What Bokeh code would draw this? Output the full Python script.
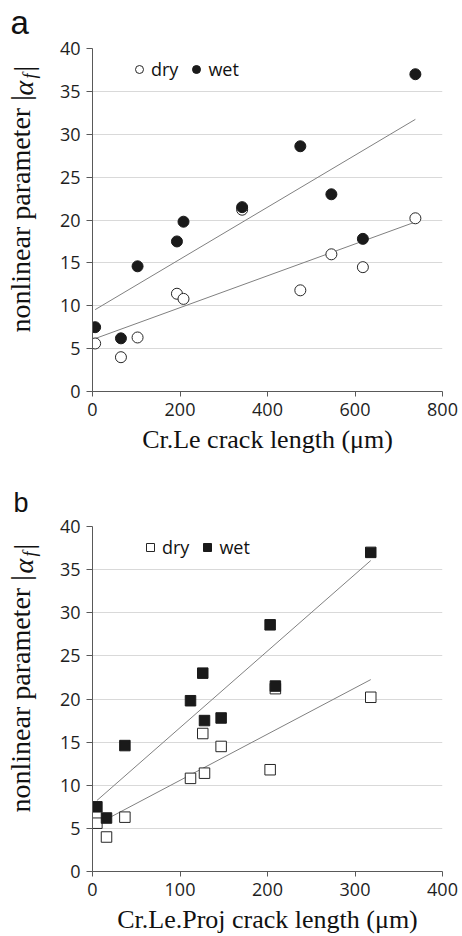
import math
import numpy as np
from bokeh.plotting import figure
from bokeh.models import Label, Legend, LegendItem, FixedTicker, Range1d
from bokeh.layouts import column
from bokeh.embed import file_html
from bokeh.resources import INLINE

# ---------------- data ----------------
crack_len_crle = [6, 65, 103, 193, 208, 342, 475, 546, 618, 738]      # Cr.Le (um)
crack_len_proj = [5, 16, 37, 128, 112, 209, 203, 126, 147, 318]       # Cr.Le.Proj (um)
alpha_dry = [5.6, 4.0, 6.3, 11.4, 10.8, 21.2, 11.8, 16.0, 14.5, 20.2]
alpha_wet = [7.5, 6.2, 14.6, 17.5, 19.8, 21.5, 28.6, 23.0, 17.8, 37.0]
y_ticks = [0, 5, 10, 15, 20, 25, 30, 35, 40]
x_ticks_a = [0, 200, 400, 600, 800]
x_ticks_b = [0, 100, 200, 300, 400]
series_labels = ["dry", "wet"]
x_title_a = "Cr.Le crack length (\u03bcm)"
x_title_b = "Cr.Le.Proj crack length (\u03bcm)"
y_title_main = "nonlinear parameter |"

TICK_FONT = "Open Sans"
SERIF = "Liberation Serif"
ROT = math.pi / 2


def make_panel(xs, xticks, letter, marker, msize, height, frame_h, bottom, leg_x,
               xtitle, letter_size, letter_dy):
    p = figure(width=460, height=height,
               x_range=Range1d(xticks[0], xticks[-1]), y_range=Range1d(0, 40),
               output_backend="svg", toolbar_location=None,
               min_border_left=92, min_border_right=18, min_border_top=48,
               min_border_bottom=bottom)
    p.outline_line_color = None
    p.background_fill_color = "white"
    p.border_fill_color = "white"
    p.xgrid.visible = False
    p.ygrid.grid_line_color = "#d9d9d9"
    p.ygrid.grid_line_width = 1

    p.yaxis.ticker = FixedTicker(ticks=y_ticks)
    p.xaxis.ticker = FixedTicker(ticks=xticks)
    for ax in (p.xaxis, p.yaxis):
        ax.axis_line_color = "#595959"
        ax.major_tick_line_color = "#595959"
        ax.minor_tick_line_color = None
        ax.major_tick_in = 0
        ax.major_label_text_font = TICK_FONT
        ax.major_label_text_font_size = "18px"
        ax.major_label_text_color = "#1e1e1e"
    p.yaxis.major_tick_out = 6
    p.yaxis.major_label_standoff = 6
    p.xaxis.major_tick_out = 5
    p.xaxis.major_label_standoff = 6
    p.xaxis.axis_label = xtitle
    p.xaxis.axis_label_text_font = SERIF
    p.xaxis.axis_label_text_font_size = "26px"
    p.xaxis.axis_label_text_font_style = "normal"
    p.xaxis.axis_label_text_color = "#111111"
    p.xaxis.axis_label_standoff = 6

    # trend lines (least squares through each series)
    x0, x1 = min(xs), max(xs)
    for ys in (alpha_dry, alpha_wet):
        m, c = np.polyfit(xs, ys, 1)
        p.line([x0, x1], [m * x0 + c, m * x1 + c], line_color="#808080", line_width=1)

    r_dry = p.scatter(xs, alpha_dry, marker=marker, size=msize, fill_color="white",
                      line_color="#262626", line_width=1)
    r_wet = p.scatter(xs, alpha_wet, marker=marker, size=msize, fill_color="#1a1a1a",
                      line_color="#1a1a1a", line_width=1)

    legend = Legend(items=[LegendItem(label=series_labels[0], renderers=[r_dry]),
                           LegendItem(label=series_labels[1], renderers=[r_wet])],
                    location=(leg_x, frame_h - 33), orientation="horizontal",
                    glyph_width=20, glyph_height=20, label_standoff=2, spacing=8,
                    padding=0, margin=0, border_line_color=None,
                    background_fill_alpha=0, label_text_font=TICK_FONT,
                    label_text_font_size="18px", label_text_color="#111111",
                    label_height=20)
    p.add_layout(legend)

    common = dict(x_units="screen", y_units="screen", angle=ROT,
                  text_align="left", text_baseline="middle", text_color="#111111",
                  text_font=SERIF)
    # left side panels (stacked outward from the y axis): main title, then letter
    p.add_layout(Label(x=-5, y=59, text=y_title_main, text_font_size="28px", **common), "left")
    p.add_layout(Label(x=3, y=frame_h + letter_dy, x_units="screen", y_units="screen",
                       text=letter, text_font="Liberation Sans",
                       text_font_size=f"{letter_size}px", text_baseline="alphabetic",
                       text_align="left", text_color="#111111"), "left")
    # above side panels: the |alpha_f| ending of the y title
    p.add_layout(Label(x=-69, y=-47, text="\u03b1", text_font_size="28px",
                       text_font_style="italic", **common), "above")
    p.add_layout(Label(x=-63, y=-45, text="f", text_font_size="18px",
                       text_font_style="italic", **common), "above")
    p.add_layout(Label(x=-69, y=-43, text="|", text_font_size="28px", **common), "above")
    return p


pa = make_panel(crack_len_crle, x_ticks_a, "a", "circle", 11, 478, 343, 87, 37,
                x_title_a, 33, 26)
pb = make_panel(crack_len_proj, x_ticks_b, "b", "square", 10.5, 458, 345, 65, 48,
                x_title_b, 27, 24)

layout = column(pa, pb, spacing=0)
open("out.html", "w").write(file_html(layout, INLINE))
